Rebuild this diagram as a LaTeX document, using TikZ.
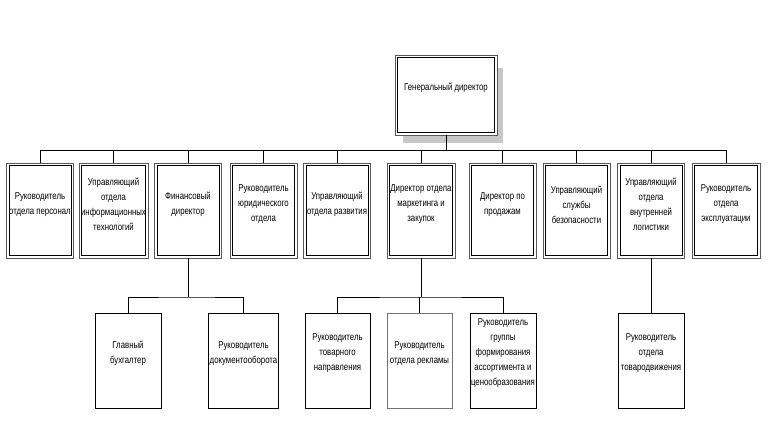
\documentclass[tikz,border=0pt]{standalone}
\usepackage{fontspec}
\setmainfont{Liberation Sans}[FakeStretch=0.78]
\usetikzlibrary{calc}
\begin{document}
\begin{tikzpicture}[x=1pt,y=-1pt,
  dbox/.style={draw=black!65, line width=0.9pt, fill=white, minimum width=#1, minimum height=95pt, inner sep=0pt,
    path picture={\draw[black, line width=0.6pt] ([shift={(2.6pt,-2.6pt)}]path picture bounding box.north west) rectangle ([shift={(-2.6pt,2.6pt)}]path picture bounding box.south east);}},
  dbox/.default=67pt,
  sbox/.style={draw=black, line width=0.8pt, fill=white, minimum width=#1, minimum height=95pt, inner sep=0pt},
  sbox/.default=66pt,
  txt/.style={align=center, inner sep=0pt, font=\fontsize{10}{15}\selectfont},
  conn/.style={draw=black, line width=0.8pt}]
\useasboundingbox (0,0) rectangle (772,429);
% shadow of top box
\fill[black!22] (403,68) rectangle (503,143);
\node[dbox=102pt, minimum height=80pt] (top) at (446,95) {};
\node[txt] (ttop) at ([yshift=7pt]top.center) {Генеральный директор};
% level 2
\node[dbox] (b1) at (40,210.5) {};
\node[dbox=69pt] (b2) at (113.5,210.5) {};
\node[dbox] (b3) at (188,210.5) {};
\node[dbox] (b4) at (263.5,210.5) {};
\node[dbox] (b5) at (337,210.5) {};
\node[dbox=68pt] (b6) at (421,210.5) {};
\node[dbox] (b7) at (502.5,210.5) {};
\node[dbox] (b8) at (576.5,210.5) {};
\node[dbox] (b9) at (651,210.5) {};
\node[dbox=68pt] (b10) at (726,210.5) {};
\node[txt] (t1) at ([yshift=6pt]b1.center) {Руководитель\\отдела персонал};
\node[txt] (t2) at ([yshift=6pt]b2.center) {Управляющий\\отдела\\информационных\\технологий};
\node[txt] (t3) at ([yshift=6pt]b3.center) {Финансовый\\директор};
\node[txt] (t4) at ([yshift=6pt]b4.center) {Руководитель\\юридического\\отдела};
\node[txt] (t5) at ([yshift=6pt]b5.center) {Управляющий\\отдела развития};
\node[txt] (t6) at ([yshift=6pt]b6.center) {Директор отдела\\маркетинга и\\закупок};
\node[txt] (t7) at ([yshift=6pt]b7.center) {Директор по\\продажам};
\node[txt] (t8) at ([yshift=6pt]b8.center) {Управляющий\\службы\\безопасности};
\node[txt] (t9) at ([yshift=6pt]b9.center) {Управляющий\\отдела\\внутренней\\логистики};
\node[txt] (t10) at ([yshift=6pt]b10.center) {Руководитель\\отдела\\эксплуатации};
% level 3
\node[sbox] (f1) at (128,360.5) {};
\node[sbox=70pt] (f2) at (243.5,360.5) {};
\node[sbox=65pt] (m1) at (337.5,360.5) {};
\node[sbox=65pt, draw=black!55] (m2) at (419.5,360.5) {};
\node[sbox] (m3) at (503,360.5) {};
\node[sbox] (l1) at (651,360.5) {};
\node[txt] (tf1) at ([yshift=7pt]f1.center) {Главный\\бухгалтер};
\node[txt] (tf2) at ([yshift=7pt]f2.center) {Руководитель\\документооборота};
\node[txt] (tm1) at ([yshift=7pt]m1.center) {Руководитель\\товарного\\направления};
\node[txt] (tm2) at ([yshift=7pt]m2.center) {Руководитель\\отдела рекламы};
\node[txt] (tm3) at ([yshift=7pt]m3.center) {Руководитель\\группы\\формирования\\ассортимента и\\ценообразования};
\node[txt] (tl1) at ([yshift=7pt]l1.center) {Руководитель\\отдела\\товародвижения};
% connectors
\coordinate (bus) at (446,150);
\draw[conn] (top.south) -- (bus);
\foreach \i in {1,...,10} {\draw[conn] (b\i.north) |- (bus);}
\coordinate (fj) at (188,297);
\draw[conn] (b3.south) -- (fj);
\draw[conn] (f1.north) |- (fj) -| (f2.north);
\coordinate (mj) at (421,297);
\draw[conn] (b6.south) -- (mj);
\draw[conn] (m1.north) |- (mj) -| (m3.north);
\draw[conn] (m2.north) -- (m2.north |- mj);
\draw[conn] (b9.south) -- (l1.north);
\end{tikzpicture}
\end{document}
